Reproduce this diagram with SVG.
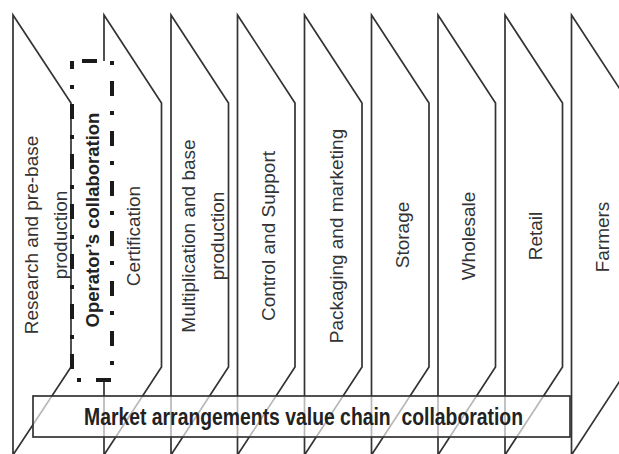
<svg xmlns="http://www.w3.org/2000/svg" width="619" height="454" viewBox="0 0 619 454">
<style>
.panel{fill:#fff;stroke:#333;stroke-width:1.7;stroke-linejoin:miter}
.lbl{font-family:"Liberation Sans",Arial,sans-serif;font-size:19px;fill:#333;text-anchor:middle;dominant-baseline:central}
.bold{font-family:"Liberation Sans",Arial,sans-serif;font-weight:bold;fill:#222;text-anchor:middle}
</style>
<rect width="619" height="454" fill="#fff"/>
<g id="panels">
<g id="p1"><path class="panel" d="M13,15 L71,103 L71,367 L13,455 Z"/>
<text class="lbl" transform="translate(31,235) rotate(-90)">Research and pre-base</text>
<text class="lbl" transform="translate(60,235) rotate(-90)">production</text></g>
<g id="p2"><path class="panel" d="M104,15 L161.5,103 L161.5,367 L104,455 Z"/></g>
<g id="p3"><path class="panel" d="M171,15 L228.5,103 L228.5,367 L171,455 Z"/>
<text class="lbl" transform="translate(188,236) rotate(-90)">Multiplication and base</text>
<text class="lbl" transform="translate(217,236) rotate(-90)">production</text></g>
<g id="p4"><path class="panel" d="M237.5,15 L295,103 L295,367 L237.5,455 Z"/>
<text class="lbl" transform="translate(268,236) rotate(-90)">Control and Support</text></g>
<g id="p5"><path class="panel" d="M304.5,15 L362,103 L362,367 L304.5,455 Z"/>
<text class="lbl" transform="translate(336,236) rotate(-90)">Packaging and marketing</text></g>
<g id="p6"><path class="panel" d="M371.5,15 L429,103 L429,367 L371.5,455 Z"/>
<text class="lbl" transform="translate(402,235) rotate(-90)">Storage</text></g>
<g id="p7"><path class="panel" d="M438,15 L495.5,103 L495.5,367 L438,455 Z"/>
<text class="lbl" transform="translate(468,236) rotate(-90)">Wholesale</text></g>
<g id="p8"><path class="panel" d="M505,15 L562.5,103 L562.5,367 L505,455 Z"/>
<text class="lbl" transform="translate(535,236) rotate(-90)">Retail</text></g>
<g id="p9"><path class="panel" d="M571.5,15 L629,103 L629,367 L571.5,455 Z"/>
<text class="lbl" transform="translate(602,237) rotate(-90)">Farmers</text></g>
</g>
<g id="operators">
<rect x="72" y="61" width="40" height="319" fill="#fff" stroke="#1a1a1a" stroke-width="4" stroke-dasharray="15 15 4 16" stroke-dashoffset="40"/>
<text class="bold" font-size="18.5" dominant-baseline="central" transform="translate(92,220) rotate(-90)">Operator’s collaboration</text>
<text class="lbl" transform="translate(133,236) rotate(-90)">Certification</text>
</g>
<g id="market">
<rect x="33" y="396" width="537" height="41" fill="#fff" fill-opacity="0.65" stroke="#333" stroke-width="1.7"/>
<text class="bold" font-size="23" x="303.5" y="425" textLength="439" lengthAdjust="spacingAndGlyphs" style="white-space:pre">Market arrangements value chain  collaboration</text>
</g>
</svg>
